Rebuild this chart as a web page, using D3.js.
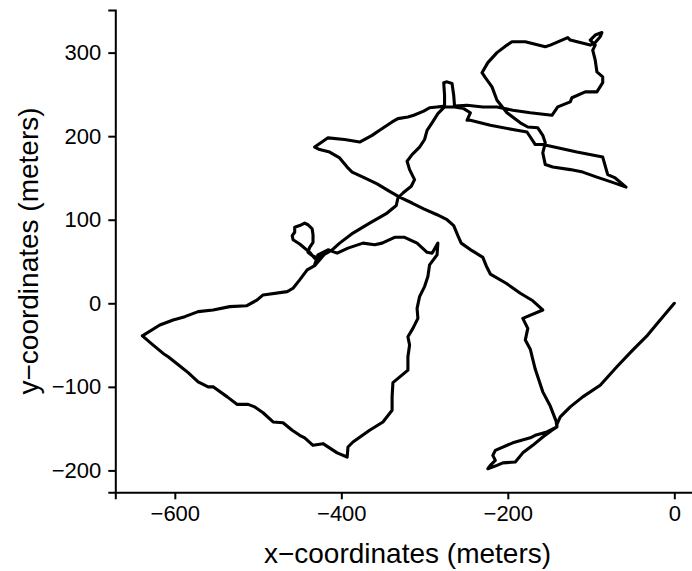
<!DOCTYPE html>
<html>
<head>
<meta charset="utf-8">
<script src="https://cdn.jsdelivr.net/npm/d3@7"></script>
<style>
  html, body { margin: 0; padding: 0; background: #fff; }
  svg { display: block; font-family: "Liberation Sans", Arial, sans-serif; }
</style>
</head>
<body>
<svg id="chart" width="692" height="571"></svg>
<script>
// Walked trajectory, in metres relative to the starting point (0, 0).
const pathX = [
  0, -17, -32, -50, -69, -89, -110, -125, -137, -141, -141,
  -153, -167, -173, -194, -215, -218, -215, -221, -224, -213, -206, -191, -182, -170, -158, -147, -141,
  -142, -149, -158, -164, -167, -170, -173, -179, -176, -182, -158, -170, -185, -202, -221, -226, -230, -243, -256, -260, -265, -273, -285, -301, -315, -330, -342, -357, -372, -387, -393, -402, -414, -426, -432,
  -416, -396, -378, -363, -354, -339, -332, -320, -313, -301, -294, -285, -276,
  -276, -277, -273, -267, -265, -264,
  -249, -230, -213, -194, -173, -147,
  -140, -125, -123, -107, -93, -86, -86, -93, -95, -98, -95, -101, -95, -87, -89, -95, -101, -125, -128, -149, -155, -179, -195, -201, -213, -224, -231, -227, -219, -213, -201, -185, -176, -164, -158, -155, -158, -155, -146, -125, -110, -93, -75, -58, -71, -80, -86, -117, -158, -167, -173, -177, -189, -221, -245, -249, -245, -253, -264, -276,
  -284, -291, -297, -300, -306, -315, -321, -318, -312, -316, -326, -332, -334, -345, -366, -386, -402, -411,
  -423, -432, -438, -450, -458, -459, -456, -456, -450, -444, -440, -435, -434, -434, -438, -440, -435, -428, -420, -432,
  -441, -450, -458, -465, -494, -501, -514, -534, -554, -572, -588, -602, -618, -639,
  -626, -614, -608, -594, -584, -572, -560, -554, -537, -525, -512, -504, -494, -482, -470, -459, -450, -444, -434, -422, -405, -393,
  -392, -386, -366, -350, -339, -339, -338, -320, -320, -318, -320, -314, -308, -309, -306, -300, -296, -294, -285, -284,
  -291, -297, -309, -324, -336, -351, -360, -374, -392, -405, -416, -428, -432
];
const pathY = [
  0, -20, -38, -56, -76, -98, -112, -124, -136, -145, -148,
  -154, -158, -161, -167, -176, -182, -188, -194, -198, -194, -191, -190, -179, -170, -160, -152, -148,
  -141, -123, -106, -88, -79, -67, -55, -44, -30, -18, -8, 3, 12, 24, 35, 45, 55, 63, 72, 81, 93, 100, 106, 113, 120, 127, 134, 143, 150, 157, 163, 174, 181, 184, 187,
  198, 196, 193, 201, 207, 217, 221, 223, 225, 230, 234, 235, 236,
  249, 264, 265, 263, 249, 236,
  237, 235, 235, 231, 228, 225,
  235, 241, 246, 253, 253, 264, 271, 277, 291, 303, 309, 315, 321, 324, 319, 312, 309, 315, 318, 309, 307, 313, 313, 309, 300, 288, 276, 270, 259, 243, 228, 216, 211, 210, 201, 192, 180, 166, 163, 160, 157, 151, 145, 139, 150, 154, 175, 181, 190, 190, 199, 205, 207, 213, 219, 219, 228, 233, 235, 235,
  227, 216, 207, 196, 187, 178, 170, 160, 148, 140, 132, 126, 117, 108, 96, 84, 72, 64,
  57, 54, 61, 71, 76, 81, 85, 91, 93, 96, 94, 89, 82, 73, 67, 61, 57, 54, 59, 45,
  40, 28, 18, 14, 10, 4, -3, -4, -8, -10, -16, -20, -26, -39,
  -50, -60, -64, -75, -83, -94, -100, -100, -112, -121, -121, -124, -131, -142, -143, -152, -158, -161, -170, -168, -179, -184,
  -172, -166, -152, -142, -128, -112, -95, -80, -64, -50, -40, -30, -18, -6, 8, 20, 32, 46, 58, 72,
  60, 61, 72, 79, 79, 72, 70, 72, 66, 60, 64, 58, 46
];
const xTicks = [-600, -400, -200, 0];
const yTicks = [-200, -100, 0, 100, 200, 300];

const svg = d3.select("#chart");
const minus = v => String(v).replace("-", "\u2212");

const x = d3.scaleLinear().domain([-671.5, 30.5]).range([115.3, 699.7]);
const y = d3.scaleLinear().domain([-226.2, 351]).range([492.3, 10]);

// trajectory
const pts = pathX.map((v, i) => [v, pathY[i]]);
svg.append("path")
  .datum(pts)
  .attr("fill", "none")
  .attr("stroke", "#000")
  .attr("stroke-width", 3.1)
  .attr("stroke-linejoin", "round")
  .attr("stroke-linecap", "round")
  .attr("d", d3.line().x(d => x(d[0])).y(d => y(d[1])));

// axes
const xAxis = svg.append("g")
  .attr("transform", `translate(0,${y.range()[0]})`)
  .call(d3.axisBottom(x).tickValues(xTicks).tickSize(7).tickPadding(6).tickFormat(minus));
const yAxis = svg.append("g")
  .attr("transform", `translate(${x.range()[0]},0)`)
  .call(d3.axisLeft(y).tickValues(yTicks).tickSize(7).tickPadding(7).tickFormat(minus));

[xAxis, yAxis].forEach(g => {
  g.select(".domain").attr("stroke", "#000").attr("stroke-width", 2);
  g.selectAll(".tick line").attr("stroke", "#000").attr("stroke-width", 2);
  g.selectAll(".tick text")
    .attr("fill", "#000")
    .style("font-family", "'Liberation Sans', Arial, sans-serif")
    .style("font-size", "22px");
});

// axis titles
svg.append("text")
  .attr("x", 407.5).attr("y", 563)
  .attr("text-anchor", "middle")
  .style("font-size", "28px")
  .attr("fill", "#000")
  .text("x\u2212coordinates (meters)");

svg.append("text")
  .attr("transform", "translate(38,251) rotate(-90)")
  .attr("text-anchor", "middle")
  .style("font-size", "28px")
  .attr("fill", "#000")
  .text("y\u2212coordinates (meters)");
</script>
</body>
</html>
